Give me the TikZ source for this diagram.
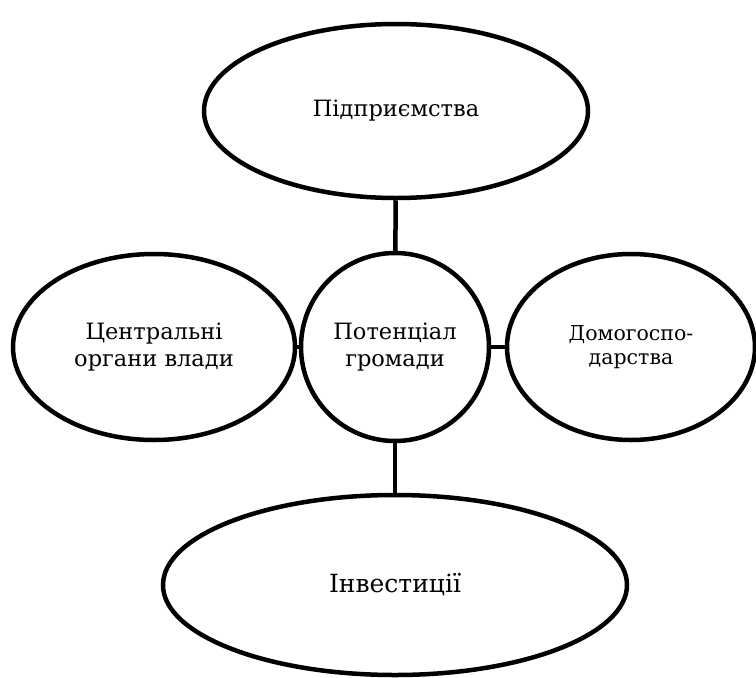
\documentclass[tikz,border=0pt]{standalone}
\usepackage{fontspec}
\setmainfont{DejaVu Serif}
\usetikzlibrary{shapes.geometric}
\tikzset{
    blob/.style={
		draw, ellipse, line width=4.5pt, inner sep=0pt, align=center,
		font=\fontsize{22.5}{27}\selectfont
	}
}
\tikzset{
    link/.style={line width=4.5pt}
}
\begin{document}
\begin{tikzpicture}[x=1pt,y=-1pt]
        \useasboundingbox (0,0) rectangle (756,678);
        \node[blob, circle, minimum size=188pt] (centre) at(395,347) {Потенціал\\громади};
        \node[blob, minimum width=384pt, minimum height=174pt] (firms) at(396,111) {Підприємства};
        \node[blob, minimum width=282pt, minimum height=186pt] (govt) at(154,347) {Центральні\\органи влади};
        \node[blob, minimum width=248pt, minimum height=186pt, font=\fontsize{20.5}{24}\selectfont] (homes) at(631,347) {Домогоспо-\\дарства};
        \node[blob, minimum width=464pt, minimum height=180pt, font=\fontsize{25}{30}\selectfont] (invest) at(395,585) {Інвестиції};
        \draw[link] (firms) -- (centre);
        \draw[link] (centre) -- (invest);
        \draw[link] (govt) -- (centre);
        \draw[link] (centre) -- (homes);
      \end{tikzpicture}
\end{document}
